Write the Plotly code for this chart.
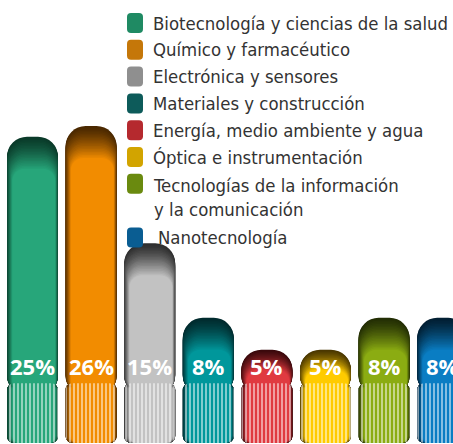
import plotly.graph_objects as go

# ---- data ----
categories = [
    "Biotecnología y ciencias de la salud",
    "Químico y farmacéutico",
    "Electrónica y sensores",
    "Materiales y construcción",
    "Energía, medio ambiente y agua",
    "Óptica e instrumentación",
    "Tecnologías de la información<br>y la comunicación",
    "Nanotecnología",
]
values = [25, 26, 15, 8, 5, 5, 8, 8]
labels = [f"{v}%" for v in values]

# ---- styles ----
BRIGHT = ["#27a67a", "#f28c00", "#c2c2c2", "#00979b", "#e03a40", "#ffcb00", "#8bac12", "#0a7dc3"]
DARK = ["#0a3a29", "#4a2800", "#2e2e2e", "#002b2e", "#3a090c", "#4a3700", "#232e04", "#021f33"]
LEGEND_COL = ["#1f8a63", "#c57709", "#8f8f8f", "#0d5b5a", "#b5292e", "#d2a400", "#6a8a0f", "#0a5d92"]

W_FIG, H_FIG = 453, 444
BAR_W = 0.87
BASE = -3.75
STRIPE_TOP = 1.85
OVERLAP = 1.0
N_LAYERS = 22
TOP_INSET_MAX = 3.0
SIDE_INSET = 0.14
LEFT_SHARE = 0.65
LEG_FONT = "DejaVu Sans Condensed, Liberation Sans Narrow, Open Sans, sans-serif"


def hex2rgb(h):
    h = h.lstrip("#")
    return [int(h[i:i + 2], 16) for i in (0, 2, 4)]


def mix(c1, c2, t):
    a, b = hex2rgb(c1), hex2rgb(c2)
    r = [round(a[j] + (b[j] - a[j]) * t) for j in range(3)]
    return f"rgb({r[0]},{r[1]},{r[2]})"


x = list(range(len(values)))
top_insets = [min(TOP_INSET_MAX, 0.6 * (v - STRIPE_TOP)) for v in values]
fig = go.Figure()

for k in range(N_LAYERS):
    f = k / (N_LAYERS - 1)
    t = f ** 1.3
    s = max(0.0, (f - 0.2) / 0.8)
    cols = [mix(DARK[i], BRIGHT[i], t) for i in range(len(values))]
    w = BAR_W - SIDE_INSET * s
    off = -BAR_W / 2 + SIDE_INSET * s * LEFT_SHARE
    tops = [v - ti * f for v, ti in zip(values, top_insets)]
    ub = STRIPE_TOP - OVERLAP
    fig.add_bar(x=x, y=[tp - ub for tp in tops], base=ub, width=w, offset=off,
                marker=dict(color=cols, cornerradius=20 - k * 0.35, line_width=0),
                hoverinfo="skip")
    fig.add_bar(x=x, y=[BASE - STRIPE_TOP] * len(values), base=STRIPE_TOP, width=w, offset=off,
                marker=dict(color=cols, cornerradius=7, line_width=0),
                hoverinfo="skip")

# stripes
fig.add_bar(x=x, y=[BASE - STRIPE_TOP] * len(values), base=STRIPE_TOP, width=BAR_W,
            marker=dict(color="rgba(0,0,0,0)", cornerradius=7, line_width=0,
                        pattern=dict(shape="|", size=4, solidity=0.3, fgcolor="white",
                                     fgopacity=0.85, fillmode="replace")),
            hoverinfo="skip")

annotations = []
for i, lab in enumerate(labels):
    annotations.append(dict(x=i, y=STRIPE_TOP, xref="x", yref="y", text=lab, showarrow=False,
                            yanchor="middle", xanchor="center", yshift=17,
                            font=dict(family="Open Sans, sans-serif", size=22, color="white", weight="bold")))

# legend (custom)
ROW0, STEP = 23, 26.8
rows = [0, 1, 2, 3, 4, 5, 6, 8]
shapes = []


def rrect(x0, y0, x1, y1, r):
    X = lambda v: v / W_FIG
    Y = lambda v: 1 - v / H_FIG
    return (f"M {X(x0 + r)},{Y(y0)} L {X(x1 - r)},{Y(y0)} Q {X(x1)},{Y(y0)} {X(x1)},{Y(y0 + r)} "
            f"L {X(x1)},{Y(y1 - r)} Q {X(x1)},{Y(y1)} {X(x1 - r)},{Y(y1)} "
            f"L {X(x0 + r)},{Y(y1)} Q {X(x0)},{Y(y1)} {X(x0)},{Y(y1 - r)} "
            f"L {X(x0)},{Y(y0 + r)} Q {X(x0)},{Y(y0)} {X(x0 + r)},{Y(y0)} Z")


for i, name in enumerate(categories):
    cy = ROW0 + rows[i] * STEP
    shapes.append(dict(type="path", xref="paper", yref="paper", path=rrect(127, cy - 10, 143, cy + 10, 4),
                       fillcolor=LEGEND_COL[i], line=dict(width=0), layer="above"))
    nlines = name.count("<br>") + 1
    ty = cy + (nlines - 1) * STEP / 2
    annotations.append(dict(x=151 / W_FIG, y=1 - ty / H_FIG, xref="paper", yref="paper", text=name,
                            showarrow=False, xanchor="left", yanchor="middle", align="left",
                            xshift=5 if i == len(categories) - 1 else 0,
                            font=dict(family=LEG_FONT, size=18.4, color="#333333")))

fig.update_layout(
    width=W_FIG, height=H_FIG, margin=dict(l=0, r=0, t=0, b=0),
    paper_bgcolor="white", plot_bgcolor="white", barmode="overlay", showlegend=False,
    xaxis=dict(visible=False, range=[-0.5546, 7.176], fixedrange=True),
    yaxis=dict(visible=False, range=[-3.85, 37.84], fixedrange=True),
    annotations=annotations, shapes=shapes,
)

fig.write_html("out.html", config={"displayModeBar": False},
               post_script="document.body.style.margin='0';document.body.style.overflow='hidden';")
